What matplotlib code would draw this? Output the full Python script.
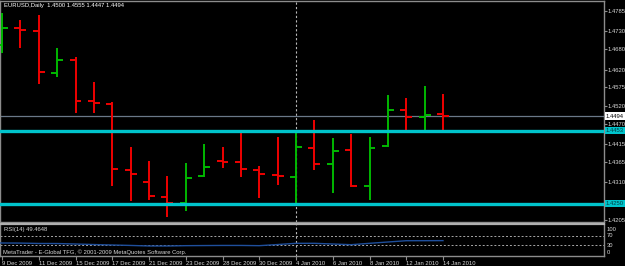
import matplotlib
matplotlib.use('Agg')
import matplotlib.pyplot as plt

# ---------------- data ----------------
date_labels = ['9 Dec 2009', '11 Dec 2009', '15 Dec 2009', '17 Dec 2009', '21 Dec 2009',
               '23 Dec 2009', '28 Dec 2009', '30 Dec 2009', '4 Jan 2010', '6 Jan 2010',
               '8 Jan 2010', '12 Jan 2010', '14 Jan 2010']
opens = [1.4691, 1.4738, 1.4730, 1.4613, 1.4649, 1.4535, 1.4527, 1.4344, 1.4310, 1.4269,
         1.4252, 1.4327, 1.4369, 1.4366, 1.4344, 1.4330, 1.4324, 1.4405, 1.4360, 1.4399,
         1.4299, 1.4410, 1.4510, 1.4491, 1.4500]
highs = [1.4779, 1.4760, 1.4774, 1.4682, 1.4657, 1.4588, 1.4532, 1.4408, 1.4369, 1.4327,
         1.4363, 1.4416, 1.4408, 1.4452, 1.4355, 1.4435, 1.4446, 1.4483, 1.4433, 1.4444,
         1.4435, 1.4552, 1.4544, 1.4577, 1.4555]
lows = [1.4668, 1.4682, 1.4582, 1.4602, 1.4502, 1.4502, 1.4299, 1.4258, 1.4261, 1.4213,
        1.4230, 1.4324, 1.4349, 1.4324, 1.4266, 1.4302, 1.4252, 1.4344, 1.4280, 1.4297,
        1.4261, 1.4408, 1.4449, 1.4452, 1.4447]
closes = [1.4738, 1.4732, 1.4616, 1.4649, 1.4535, 1.4530, 1.4347, 1.4333, 1.4272, 1.4252,
          1.4322, 1.4352, 1.4366, 1.4347, 1.4333, 1.4327, 1.4408, 1.4360, 1.4397, 1.4299,
          1.4405, 1.4510, 1.4491, 1.4496, 1.4494]
rsi = [38.9, 38.5, 36.8, 36.5, 34.4, 32.0, 30.0, 28.0, 25.6, 25.5,
       27.0, 27.5, 28.0, 28.0, 27.0, 32.0, 37.5, 37.5, 34.4, 31.3,
       37.5, 43.3, 49.0, 49.1, 49.46]
price_ticks = [1.4785, 1.4730, 1.4680, 1.4620, 1.4575, 1.4520, 1.4470, 1.4415,
               1.4365, 1.4310, 1.4255, 1.4205]
price_tick_labels = ['1.4785', '1.4730', '1.4680', '1.4620', '1.4575', '1.4520', '1.4470',
                     '1.4415', '1.4365', '1.4310', '1.4255', '1.4205']
bid = 1.4494
levels = [1.4453, 1.4250]
level_labels = ['1.4453', '1.4250']
rsi_levels = [70, 30]
rsi_tick_labels = ['100', '70', '30', '0']
rsi_tick_vals = [100, 74, 30, 0]
title = 'EURUSD,Daily  1.4500 1.4555 1.4447 1.4494'
rsi_title = 'RSI(14) 49.4648'
copyright_text = 'MetaTrader - E-Global TFG, \u00a9 2001-2009 MetaQuotes Software Corp.'
sep_bar = 16

# ---------------- style ----------------
W, H = 625, 266
FONT = ['Liberation Sans', 'DejaVu Sans']
plt.rcParams['font.family'] = FONT
FS = 4.2
TXT = '#d8d8d8'
GRID = '#8c8c8c'
UP = '#00b800'
DOWN = '#f00000'
CYAN = '#00c4cc'

def fx(px):
    return px / W

def fy(py):
    return 1 - py / H

px_per_bar = 18.375
x0 = 2.0
xlim = ((0 - x0) / px_per_bar, (604 - x0) / px_per_bar)

def price_at(py):
    return 1.4785 - (py - 11) / 3603.0

fig = plt.figure(figsize=(W / 100, H / 100), dpi=100, facecolor='black')

# ---------------- main pane ----------------
ax = fig.add_axes([0, fy(222), fx(604), (222 - 1) / H])
ax.set_facecolor('black')
ax.set_xlim(*xlim)
ax.set_ylim(price_at(222), price_at(1))
for s in ax.spines.values():
    s.set_color(GRID)
    s.set_linewidth(1.0)

n = len(opens)
xs = list(range(n))
tick = 0.32
for i in xs:
    c = UP if closes[i] >= opens[i] else DOWN
    ax.vlines(i, lows[i], highs[i], color=c, lw=1.4, zorder=3)
    ax.hlines(opens[i], i - tick, i, color=c, lw=1.4, zorder=3)
    ax.hlines(closes[i], i, i + tick, color=c, lw=1.4, zorder=3)

ax.axhline(bid, color='#6a7888', lw=0.9, zorder=2)
for lv in levels:
    ax.axhline(lv, color=CYAN, lw=2.4, zorder=4)
ax.axvline(sep_bar, color='#b8b8b8', lw=0.8, ls=(0, (2, 2)), zorder=1)

ax.set_xticks([])
ax.yaxis.tick_right()
ax.set_yticks(price_ticks)
ax.set_yticklabels(price_tick_labels)
ax.tick_params(axis='y', length=2, width=0.8, color=GRID, labelsize=FS,
               labelcolor=TXT, pad=0.5)

fig.text(fx(4), fy(5), title, color='white', fontsize=FS, va='center', ha='left')

# right labels with boxes
fig.text(fx(606), fy(116), '1.4494', color='black', fontsize=FS, va='center', ha='left',
         bbox=dict(boxstyle='square,pad=0.2', fc='white', ec='none'), zorder=10)
for lv, lab in zip(levels, level_labels):
    py = 11 + (1.4785 - lv) * 3603.0
    fig.text(fx(606), fy(py), lab, color='#003c40', fontsize=FS, va='center', ha='left',
             bbox=dict(boxstyle='square,pad=0.2', fc=CYAN, ec='none'), zorder=10)

# ---------------- RSI pane ----------------
rx = fig.add_axes([0, fy(256), fx(604), (256 - 224) / H])
rx.set_facecolor('black')
rx.set_xlim(*xlim)
rx.set_ylim(-18.9, 123.3)
for s in rx.spines.values():
    s.set_color(GRID)
    s.set_linewidth(1.0)
rx.spines['top'].set_color('#b0b0b0')
rx.spines['top'].set_linewidth(1.6)
for lv in rsi_levels:
    rx.axhline(lv, color='#a8a8a8', lw=0.7, ls=(0, (2, 2)))
rx.axvline(sep_bar, color='#b8b8b8', lw=0.8, ls=(0, (2, 2)), zorder=1)
rx.plot([xlim[0]] + xs, [rsi[0]] + rsi, color='#1f4f9c', lw=1.0, zorder=3)

rx.yaxis.tick_right()
rx.set_yticks(rsi_tick_vals)
rx.set_yticklabels(rsi_tick_labels)
rx.tick_params(axis='y', length=0, labelsize=FS, labelcolor=TXT, pad=2)

rx.set_xticks(list(range(0, n, 2)))
rx.set_xticklabels(date_labels)
rx.tick_params(axis='x', length=3, width=0.8, color=GRID, labelsize=FS,
               labelcolor=TXT, pad=0.5)
for lab in rx.get_xticklabels():
    lab.set_ha('left')

fig.text(fx(4), fy(230), rsi_title, color=TXT, fontsize=FS, va='center', ha='left')
fig.text(fx(3), fy(252), copyright_text, color=TXT, fontsize=FS, va='center', ha='left')

fig.savefig('out.png', dpi=100, facecolor='black')
